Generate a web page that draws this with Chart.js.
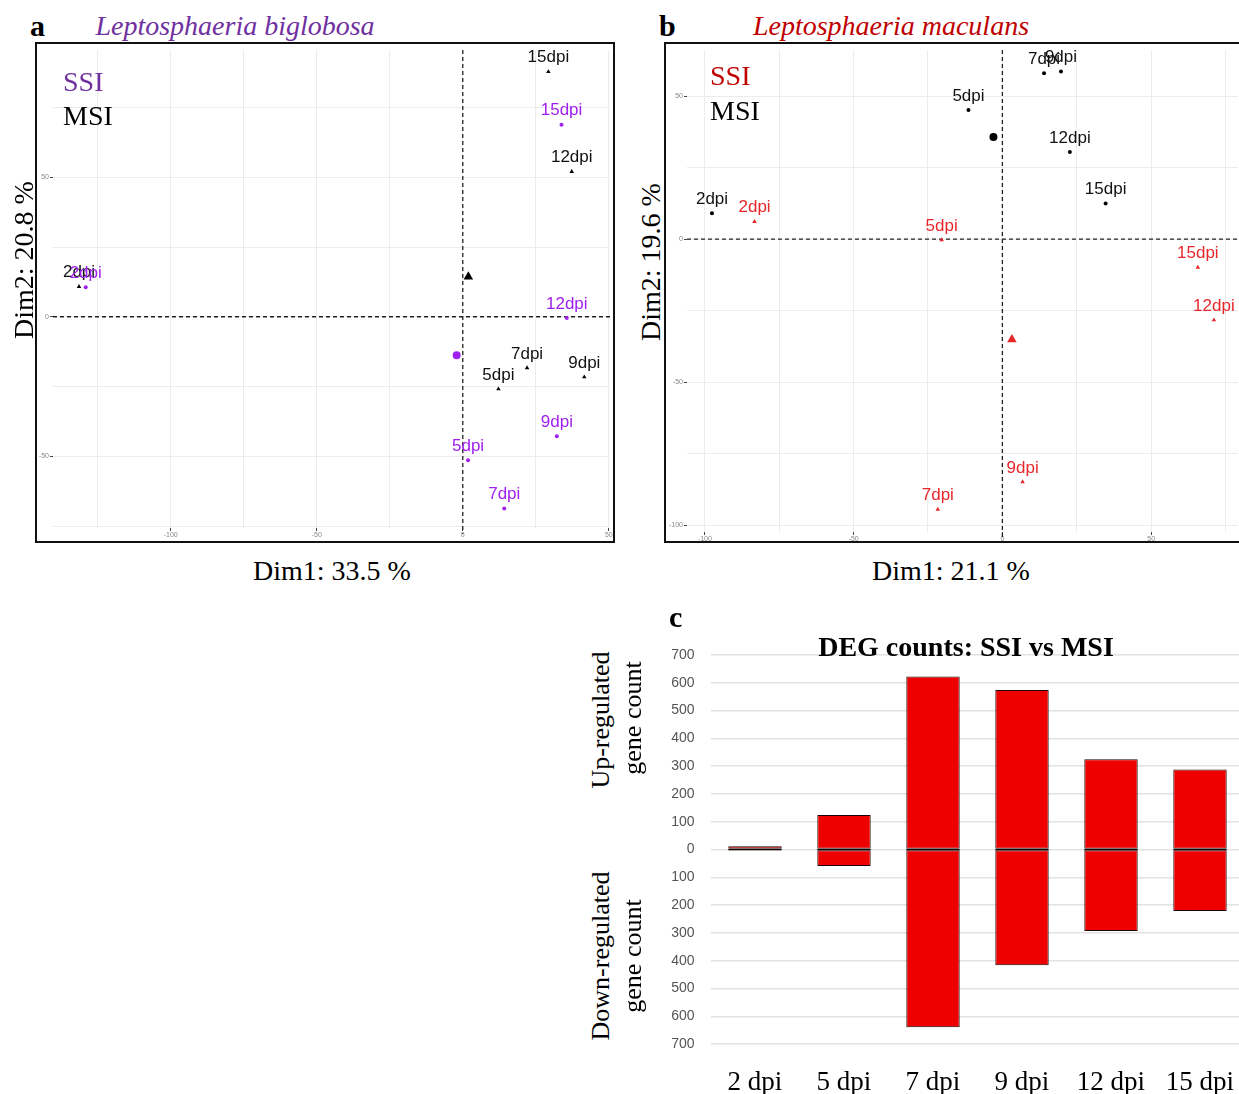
<!DOCTYPE html>
<html>
<head>
<meta charset="utf-8">
<script src="https://cdn.jsdelivr.net/npm/chart.js@4.4.1/dist/chart.umd.min.js"></script>
<style>
  html, body { margin: 0; padding: 0; background: #fff; overflow: hidden; width: 1239px; height: 1094px; }
  .frame { position: absolute; border: 2px solid #111; box-sizing: border-box; }
  .frame canvas { display: block; }
  .txt { position: absolute; white-space: nowrap; }
</style>
</head>
<body>
<div class="frame" style="left:35px;top:42px;width:580px;height:501px;">
  <canvas id="pcaA" width="576" height="497" style="width:576px;height:497px"></canvas>
</div>
<div class="frame" style="left:664px;top:42px;width:590px;height:501px;">
  <canvas id="pcaB" width="586" height="497" style="width:586px;height:497px"></canvas>
</div>
<canvas id="degBars" width="610" height="468" style="position:absolute;left:640px;top:626px;width:610px;height:468px"></canvas>

<script>
// a: Leptosphaeria biglobosa PCA
const dpiNames = ['2dpi', '5dpi', '7dpi', '9dpi', '12dpi', '15dpi'];
const lbMsiDim1 = [-131.4, 12.2, 22.0, 41.6, 37.3, 29.3];
const lbMsiDim2 = [10.8, -25.9, -18.3, -21.6, 52.0, 87.8];
const lbSsiDim1 = [-129.1, 1.8, 14.2, 32.2, 35.6, 33.8];
const lbSsiDim2 = [10.6, -51.4, -68.7, -42.8, -0.4, 68.8];
const lbMsiCentre = [1.9, 14.3];
const lbSsiCentre = [-2.1, -13.8];

// b: Leptosphaeria maculans PCA
const lmMsiDim1 = [-97.6, -11.4, 14.0, 19.7, 22.7, 34.7];
const lmMsiDim2 = [9.0, 45.1, 58.0, 58.6, 30.4, 12.4];
const lmSsiDim1 = [-83.3, -20.4, -21.7, 6.8, 71.1, 65.7];
const lmSsiDim2 = [6.1, -0.3, -94.5, -84.9, -28.3, -9.9];
const lmMsiCentre = [-3.0, 35.7];
const lmSsiCentre = [3.2, -35.1];

// c: DEG counts SSI vs MSI
const degDays = ['2 dpi', '5 dpi', '7 dpi', '9 dpi', '12 dpi', '15 dpi'];
const degUp = [12, 124, 623, 574, 325, 288];
const degDown = [2, 59, 639, 416, 293, 221];

const purple = '#A020F0';
const red = '#E8272B';

function toPoints(xs, ys) {
  return xs.map((x, i) => ({ x: x, y: ys[i] }));
}

// dpi labels above each sample point
const pointLabels = {
  id: 'pointLabels',
  afterDatasetsDraw(chart) {
    const ctx = chart.ctx;
    chart.data.datasets.forEach((ds, i) => {
      if (!ds.pointNames) return;
      const meta = chart.getDatasetMeta(i);
      ctx.save();
      ctx.font = '17px "Liberation Sans", Arial, sans-serif';
      ctx.fillStyle = ds.labelColor;
      ctx.textAlign = 'center';
      ctx.textBaseline = 'middle';
      meta.data.forEach((el, j) => {
        ctx.fillText(ds.pointNames[j], el.x, el.y - 14);
      });
      ctx.restore();
    });
  }
};

// dashed lines through the origin
const zeroLines = {
  id: 'zeroLines',
  beforeDatasetsDraw(chart) {
    const { ctx, chartArea: a, scales: { x, y } } = chart;
    const px = x.getPixelForValue(0);
    const py = y.getPixelForValue(0);
    ctx.save();
    ctx.strokeStyle = '#222';
    ctx.lineWidth = 1.3;
    ctx.setLineDash([4, 3]);
    ctx.beginPath();
    ctx.moveTo(px, a.top);
    ctx.lineTo(px, a.bottom + 6);
    ctx.moveTo(a.left, py);
    ctx.lineTo(a.right, py);
    ctx.stroke();
    ctx.restore();
  }
};

// dark seam where the up and down bars meet
const barSeams = {
  id: 'barSeams',
  afterDatasetsDraw(chart) {
    const ctx = chart.ctx;
    const py = chart.scales.y.getPixelForValue(0);
    ctx.save();
    ctx.strokeStyle = '#1a0505';
    ctx.lineWidth = 1.2;
    ctx.beginPath();
    chart.getDatasetMeta(0).data.forEach(el => {
      ctx.moveTo(el.x - el.width / 2, py);
      ctx.lineTo(el.x + el.width / 2, py);
    });
    ctx.stroke();
    ctx.restore();
  }
};

function pcaOptions(xMin, xMax, yMin, yMax, yAxisW, xAxisH, padRight) {
  const tickFont = { family: '"Liberation Sans", Arial, sans-serif', size: 7 };
  const grid = {
    color: '#ececec', lineWidth: 1, drawTicks: true, tickLength: 3,
    tickColor: c => (c.tick && c.tick.value % 50 === 0 ? '#444' : 'rgba(0,0,0,0)')
  };
  return {
    responsive: false,
    animation: false,
    layout: { autoPadding: false, padding: { top: 6, right: padRight, left: 0, bottom: 0 } },
    plugins: { legend: { display: false }, tooltip: { enabled: false } },
    scales: {
      x: {
        type: 'linear', min: xMin, max: xMax,
        grid: grid, border: { display: false },
        ticks: {
          stepSize: 25, includeBounds: false, autoSkip: false, maxRotation: 0,
          padding: 0, font: tickFont, color: '#888',
          callback: v => (v % 50 === 0 ? v : '')
        },
        afterFit(s) { s.height = xAxisH; }
      },
      y: {
        type: 'linear', min: yMin, max: yMax,
        grid: grid, border: { display: false },
        ticks: {
          stepSize: 25, includeBounds: false, autoSkip: false,
          padding: 1, font: tickFont, color: '#888',
          callback: v => (v % 50 === 0 ? v : '')
        },
        afterFit(s) { s.width = yAxisW; }
      }
    }
  };
}

new Chart(document.getElementById('pcaA'), {
  type: 'scatter',
  data: {
    datasets: [
      { data: toPoints(lbMsiDim1, lbMsiDim2), pointStyle: 'triangle', pointRadius: 2.6,
        backgroundColor: '#000', borderColor: '#000', borderWidth: 0,
        pointNames: dpiNames, labelColor: '#111' },
      { data: toPoints(lbSsiDim1, lbSsiDim2), pointStyle: 'circle', pointRadius: 2,
        backgroundColor: purple, borderColor: purple, borderWidth: 0,
        pointNames: dpiNames, labelColor: purple },
      { data: [{ x: lbMsiCentre[0], y: lbMsiCentre[1] }], pointStyle: 'triangle', pointRadius: 5.5,
        backgroundColor: '#000', borderColor: '#000', borderWidth: 0 },
      { data: [{ x: lbSsiCentre[0], y: lbSsiCentre[1] }], pointStyle: 'circle', pointRadius: 4,
        backgroundColor: purple, borderColor: purple, borderWidth: 0 }
    ]
  },
  options: pcaOptions(-140.3, 50.4, -75.7, 95.6, 16, 13, 3),
  plugins: [zeroLines, pointLabels]
});

new Chart(document.getElementById('pcaB'), {
  type: 'scatter',
  data: {
    datasets: [
      { data: toPoints(lmMsiDim1, lmMsiDim2), pointStyle: 'circle', pointRadius: 2,
        backgroundColor: '#000', borderColor: '#000', borderWidth: 0,
        pointNames: dpiNames, labelColor: '#111' },
      { data: toPoints(lmSsiDim1, lmSsiDim2), pointStyle: 'triangle', pointRadius: 2.6,
        backgroundColor: red, borderColor: red, borderWidth: 0,
        pointNames: dpiNames, labelColor: red },
      { data: [{ x: lmMsiCentre[0], y: lmMsiCentre[1] }], pointStyle: 'circle', pointRadius: 4,
        backgroundColor: '#000', borderColor: '#000', borderWidth: 0 },
      { data: [{ x: lmSsiCentre[0], y: lmSsiCentre[1] }], pointStyle: 'triangle', pointRadius: 5.5,
        backgroundColor: red, borderColor: red, borderWidth: 0 }
    ]
  },
  options: pcaOptions(-106.0, 79.2, -102.4, 66.1, 21, 9, 14),
  plugins: [zeroLines, pointLabels]
});

const barStyle = {
  backgroundColor: '#EE0000', borderColor: '#1a0505', borderWidth: 1,
  borderSkipped: false, categoryPercentage: 1, barPercentage: 0.6
};

new Chart(document.getElementById('degBars'), {
  type: 'bar',
  data: {
    labels: degDays,
    datasets: [
      Object.assign({ label: 'Up-regulated', data: degUp }, barStyle),
      Object.assign({ label: 'Down-regulated', data: degDown.map(v => -v) }, barStyle)
    ]
  },
  options: {
    responsive: false,
    animation: false,
    layout: { autoPadding: false, padding: { top: 9, right: 5.5, left: 0, bottom: 0 } },
    plugins: { legend: { display: false }, tooltip: { enabled: false } },
    scales: {
      x: {
        stacked: true,
        grid: { display: false }, border: { display: false },
        ticks: {
          font: { family: '"Liberation Serif", "Times New Roman", serif', size: 27 },
          color: '#000', padding: -4, maxRotation: 0, autoSkip: false
        },
        afterFit(s) { s.height = 31; }
      },
      y: {
        stacked: true, min: -768, max: 772,
        grid: { color: '#e2e2e2', lineWidth: 1.5, drawTicks: true, tickLength: 16, tickColor: 'rgba(0,0,0,0)' },
        border: { display: false },
        ticks: {
          stepSize: 100, includeBounds: false,
          callback: v => Math.abs(v),
          font: { family: '"Liberation Sans", Arial, sans-serif', size: 14, lineHeight: 1 },
          color: '#555', padding: 0
        },
        afterFit(s) { s.width = 70.5; }
      }
    }
  },
  plugins: [barSeams]
});

// text around the panels
const serif = '"Liberation Serif", "Times New Roman", serif';

function addText(txt, x, baseline, size, opts) {
  opts = opts || {};
  const d = document.createElement('div');
  d.className = 'txt';
  d.textContent = txt;
  d.style.font = (opts.style || '') + ' ' + (opts.weight || 'normal') + ' ' + size + 'px ' + serif;
  d.style.lineHeight = size + 'px';
  d.style.color = opts.color || '#000';
  d.style.top = (baseline - 0.8375 * size) + 'px';
  if (opts.center) {
    d.style.left = (x - 300) + 'px';
    d.style.width = '600px';
    d.style.textAlign = 'center';
  } else {
    d.style.left = x + 'px';
  }
  document.body.appendChild(d);
}

function addVText(txt, cx, cy, size) {
  const d = document.createElement('div');
  d.className = 'txt';
  d.textContent = txt;
  d.style.font = size + 'px ' + serif;
  d.style.lineHeight = size + 'px';
  d.style.left = (cx - 150) + 'px';
  d.style.width = '300px';
  d.style.top = (cy - size / 2) + 'px';
  d.style.textAlign = 'center';
  d.style.transform = 'rotate(-90deg)';
  document.body.appendChild(d);
}

addText('a', 30, 36, 30, { weight: 'bold' });
addText('Leptosphaeria biglobosa', 235, 35, 28, { style: 'italic', color: '#7030A0', center: true });
addText('b', 659, 36, 30, { weight: 'bold' });
addText('Leptosphaeria maculans', 891, 35, 28, { style: 'italic', color: '#C00000', center: true });
addText('c', 669, 627, 30, { weight: 'bold' });

addText('SSI', 63, 91, 28, { color: '#7030A0' });
addText('MSI', 63, 125, 28);
addText('SSI', 710, 85, 28, { color: '#C00000' });
addText('MSI', 710, 120, 28);

addText('Dim1: 33.5 %', 332, 580, 28, { center: true });
addText('Dim1: 21.1 %', 951, 580, 28, { center: true });
addVText('Dim2: 20.8 %', 24, 260, 28);
addVText('Dim2: 19.6 %', 651, 262, 28);

addText('DEG counts: SSI vs MSI', 966, 656, 28, { weight: 'bold', center: true });
addVText('Up-regulated', 601, 720, 26);
addVText('gene count', 633, 718, 26);
addVText('Down-regulated', 601, 956, 26);
addVText('gene count', 633, 956, 26);
</script>
</body>
</html>
